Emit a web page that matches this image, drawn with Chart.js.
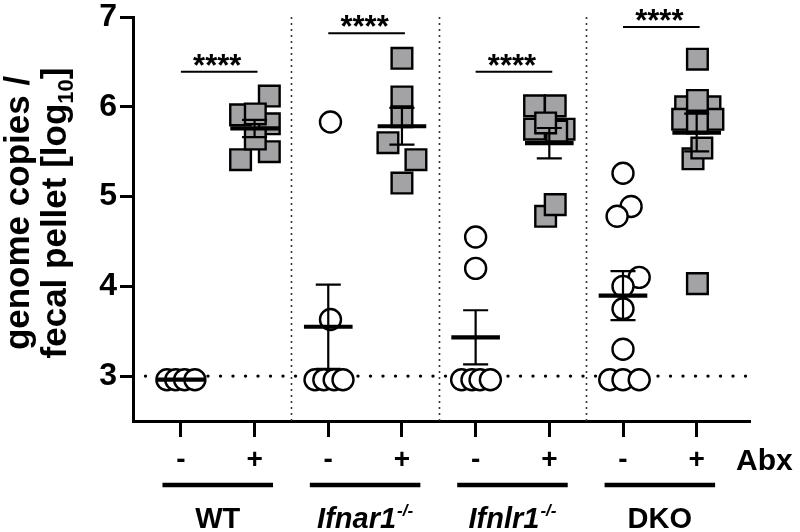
<!DOCTYPE html>
<html><head><meta charset="utf-8">
<script src="https://cdn.jsdelivr.net/npm/chart.js@4.4.0/dist/chart.umd.min.js"></script>
<style>html,body{margin:0;padding:0;background:#fff;} #wrap{width:800px;height:532px;}</style>
</head><body><div id="wrap"><canvas id="c" width="800" height="532"></canvas></div>
<script>
const FONT = '"Liberation Sans", Arial, Helvetica, sans-serif';

// ---------- data ----------
const groups = ['WT', 'Ifnar1', 'Ifnlr1', 'DKO'];
const groupItalic = [false, true, true, false];
const groupSup = ['', '-/-', '-/-', ''];
const abxLabels = ['-', '+'];
const abxTitle = 'Abx';
const yTicks = [3, 4, 5, 6, 7];
const yTitle1 = 'genome copies /';
const yTitle2 = ['fecal pellet [log', '10', ']'];
const lod = 3;
const sigText = '****';
const sigY = [6.39, 6.82, 6.39, 6.89];

const wtNeg    = [2.96, 2.96, 2.96, 2.96];
const wtPos    = [6.12, 5.91, 5.81, 5.50, 5.41, 5.92, 5.64];
const ifnarNeg = [5.83, 3.63, 2.96, 2.96, 2.96, 2.96];
const ifnarPos = [6.54, 6.11, 5.89, 5.60, 5.41, 5.15];
const ifnlrNeg = [4.55, 4.20, 2.96, 2.96, 2.96, 2.96];
const ifnlrPos = [6.01, 6.01, 5.75, 5.75, 5.73, 5.82, 4.78, 4.91];
const dkoNeg   = [5.26, 4.89, 4.78, 4.10, 4.00, 3.75, 3.30, 2.96, 2.96, 2.96];
const dkoPos   = [6.00, 6.00, 5.86, 5.86, 6.07, 5.82, 6.53, 5.42, 5.54, 4.03];

// horizontal scatter (jitter) of each point, in category units
const wtNegJit    = [-0.19, -0.07, 0.05, 0.19];
const wtPosJit    = [0.2, -0.19, 0.2, 0.2, -0.19, 0.01, 0.01];
const ifnarNegJit = [0.03, 0.03, -0.18, -0.06, 0.08, 0.2];
const ifnarPosJit = [0, 0, 0, -0.19, 0.19, 0];
const ifnlrNegJit = [0, 0, -0.19, -0.05, 0.06, 0.2];
const ifnlrPosJit = [-0.2, 0.08, -0.2, 0.2, 0.1, -0.05, -0.05, 0.08];
const dkoNegJit   = [0, 0.11, -0.08, 0.22, 0, 0, 0, -0.18, 0, 0.22];
const dkoPosJit   = [-0.15, 0.18, -0.19, 0.22, 0.01, 0.01, 0.01, -0.05, 0.07, 0.01];

const negSeries = [wtNeg, ifnarNeg, ifnlrNeg, dkoNeg];
const posSeries = [wtPos, ifnarPos, ifnlrPos, dkoPos];
const negJit = [wtNegJit, ifnarNegJit, ifnlrNegJit, dkoNegJit];
const posJit = [wtPosJit, ifnarPosJit, ifnlrPosJit, dkoPosJit];

// ---------- derived ----------
const catPos = [];
groups.forEach((g, i) => { catPos.push(2 * i + 1, 2 * i + 2); });
const separators = groups.slice(1).map((g, i) => 2 * (i + 1) + 0.5);

function pts(vals, jit, pos) { return vals.map((v, k) => ({ x: pos + jit[k], y: v })); }
const negData = [], posData = [];
groups.forEach((g, i) => {
  negData.push(...pts(negSeries[i], negJit[i], 2 * i + 1));
  posData.push(...pts(posSeries[i], posJit[i], 2 * i + 2));
});
function meanSem(a) {
  const n = a.length, m = a.reduce((s, v) => s + v, 0) / n;
  if (n < 2) return { m, s: 0 };
  const v = a.reduce((s, x) => s + (x - m) * (x - m), 0) / (n - 1);
  return { m, s: Math.sqrt(v / n) };
}
const stats = [];
groups.forEach((g, i) => {
  stats.push({ pos: 2 * i + 1, ...meanSem(negSeries[i]) });
  stats.push({ pos: 2 * i + 2, ...meanSem(posSeries[i]) });
});

// ---------- plugin ----------
const deco = {
  id: 'deco',
  beforeDatasetsDraw(chart) {
    const { ctx, chartArea: a, scales: { x, y } } = chart;
    ctx.save();
    ctx.strokeStyle = '#333'; ctx.lineWidth = 1.6; ctx.setLineDash([2, 4]);
    separators.forEach(s => {
      const px = Math.round(x.getPixelForValue(s)) + 0.5;
      ctx.beginPath(); ctx.moveTo(px, y.getPixelForValue(7)); ctx.lineTo(px, a.bottom); ctx.stroke();
    });
    ctx.strokeStyle = '#000'; ctx.lineWidth = 3.4; ctx.lineCap = 'round'; ctx.setLineDash([0, 12.5]);
    const py = y.getPixelForValue(lod);
    ctx.beginPath(); ctx.moveTo(a.left, py); ctx.lineTo(a.right, py); ctx.stroke();
    ctx.restore();
  },
  afterDatasetsDraw(chart) {
    const { ctx, scales: { x, y } } = chart;
    ctx.save(); ctx.strokeStyle = '#000'; ctx.lineCap = 'butt';
    stats.forEach(st => {
      const cx = x.getPixelForValue(st.pos);
      const hw = x.getPixelForValue(st.pos + 0.33) - cx;
      const cw = x.getPixelForValue(st.pos + 0.17) - cx;
      const ym = y.getPixelForValue(st.m);
      if (st.s > 0) {
        const yt = y.getPixelForValue(st.m + st.s), yb = y.getPixelForValue(st.m - st.s);
        ctx.lineWidth = 2.2;
        ctx.beginPath(); ctx.moveTo(cx, yt); ctx.lineTo(cx, yb);
        ctx.moveTo(cx - cw, yt); ctx.lineTo(cx + cw, yt);
        ctx.moveTo(cx - cw, yb); ctx.lineTo(cx + cw, yb); ctx.stroke();
      }
      ctx.lineWidth = 4.2;
      ctx.beginPath(); ctx.moveTo(cx - hw, ym); ctx.lineTo(cx + hw, ym); ctx.stroke();
    });
    ctx.restore();
  },
  afterDraw(chart) {
    const { ctx, chartArea: a, scales: { x, y } } = chart;
    ctx.save(); ctx.fillStyle = '#000'; ctx.strokeStyle = '#000';
    // significance bars
    groups.forEach((g, i) => {
      const x1 = x.getPixelForValue(2 * i + 1), x2 = x.getPixelForValue(2 * i + 2.04);
      const py = y.getPixelForValue(sigY[i]);
      ctx.lineWidth = 2;
      ctx.beginPath(); ctx.moveTo(x1, py); ctx.lineTo(x2, py); ctx.stroke();
      ctx.font = `bold 31px ${FONT}`; ctx.textAlign = 'center'; ctx.textBaseline = 'alphabetic';
      ctx.fillText(sigText, (x1 + x2) / 2 - 2, py + 4);
    });
    // group lines and labels
    groups.forEach((g, i) => {
      const mid = 2 * i + 1.5;
      const x1 = x.getPixelForValue(mid - 0.75), x2 = x.getPixelForValue(mid + 0.75);
      const ly = a.bottom + 64;
      ctx.lineWidth = 4.5;
      ctx.beginPath(); ctx.moveTo(x1, ly); ctx.lineTo(x2, ly); ctx.stroke();
      const mainFont = `${groupItalic[i] ? 'italic ' : ''}bold 29px ${FONT}`;
      const supFont = `${groupItalic[i] ? 'italic ' : ''}bold 17px ${FONT}`;
      ctx.font = mainFont; const w1 = ctx.measureText(g).width;
      ctx.font = supFont; const w2 = groupSup[i] ? ctx.measureText(groupSup[i]).width + 1 : 0;
      const sx = (x1 + x2) / 2 - (w1 + w2) / 2, by = a.bottom + 107;
      ctx.textAlign = 'left'; ctx.textBaseline = 'alphabetic';
      ctx.font = mainFont; ctx.fillText(g, sx, by);
      if (groupSup[i]) { ctx.font = supFont; ctx.fillText(groupSup[i], sx + w1 + 1, by - 12); }
    });
    // Abx
    ctx.font = `bold 30px ${FONT}`; ctx.textAlign = 'left'; ctx.textBaseline = 'alphabetic';
    ctx.fillText(abxTitle, a.right - 13, a.bottom + 49);
    // y title
    ctx.save(); ctx.translate(29, 213); ctx.rotate(-Math.PI / 2);
    ctx.font = `bold 35px ${FONT}`; ctx.textAlign = 'center'; ctx.textBaseline = 'alphabetic';
    ctx.fillText(yTitle1, 0, 0);
    ctx.restore();
    ctx.save(); ctx.translate(66, 213); ctx.rotate(-Math.PI / 2);
    ctx.textAlign = 'left'; ctx.textBaseline = 'alphabetic';
    const f1 = `bold 35px ${FONT}`, f2 = `bold 22px ${FONT}`;
    ctx.font = f1; const a1 = ctx.measureText(yTitle2[0]).width, a3 = ctx.measureText(yTitle2[2]).width;
    ctx.font = f2; const a2 = ctx.measureText(yTitle2[1]).width;
    let sx = -(a1 + a2 + a3) / 2;
    ctx.font = f1; ctx.fillText(yTitle2[0], sx, 0); sx += a1;
    ctx.font = f2; ctx.fillText(yTitle2[1], sx, 7); sx += a2;
    ctx.font = f1; ctx.fillText(yTitle2[2], sx, 0);
    ctx.restore();
    ctx.restore();
  }
};

new Chart(document.getElementById('c'), {
  type: 'scatter',
  data: {
    datasets: [
      { label: 'Abx -', data: negData, pointStyle: 'circle', pointRadius: 10.5, pointHoverRadius: 10.5,
        backgroundColor: '#ffffff', borderColor: '#000000', borderWidth: 2.4, pointHoverBorderWidth: 2.4 },
      { label: 'Abx +', data: posData, pointStyle: 'rect', pointRadius: 14.6, pointHoverRadius: 14.6,
        backgroundColor: '#a3a3a6', borderColor: '#000000', borderWidth: 2.4, pointHoverBorderWidth: 2.4 }
    ]
  },
  options: {
    responsive: false, animation: false, devicePixelRatio: 1,
    layout: { padding: { top: 11, right: 51, left: 0, bottom: 0 } },
    plugins: { legend: { display: false }, tooltip: { enabled: false } },
    events: [],
    scales: {
      x: {
        type: 'linear', min: 0.35, max: 8.71,
        afterBuildTicks: s => { s.ticks = catPos.map(v => ({ value: v })); },
        afterFit: s => { s.height = 111; s.paddingLeft = 0; s.paddingRight = 0; },
        ticks: { autoSkip: false, maxRotation: 0, minRotation: 0, padding: 6, color: '#000',
          font: { family: FONT, size: 28, weight: 'bold' },
          callback: v => abxLabels[(Math.round(v) - 1) % 2] },
        grid: { drawOnChartArea: false, drawTicks: true, tickLength: 16, lineWidth: 3, color: '#000' },
        border: { display: true, width: 3, color: '#000' }
      },
      y: {
        type: 'linear', min: 2.5, max: 7,
        afterBuildTicks: s => { s.ticks = yTicks.map(v => ({ value: v })); },
        afterFit: s => { s.width = 133; s.paddingTop = 0; s.paddingBottom = 0; },
        ticks: { padding: 3, color: '#000', font: { family: FONT, size: 32, weight: 'bold' } },
        grid: { drawOnChartArea: false, drawTicks: true, tickLength: 13, lineWidth: 3, color: '#000' },
        border: { display: true, width: 3, color: '#000' }
      }
    }
  },
  plugins: [deco]
});
</script></body></html>
